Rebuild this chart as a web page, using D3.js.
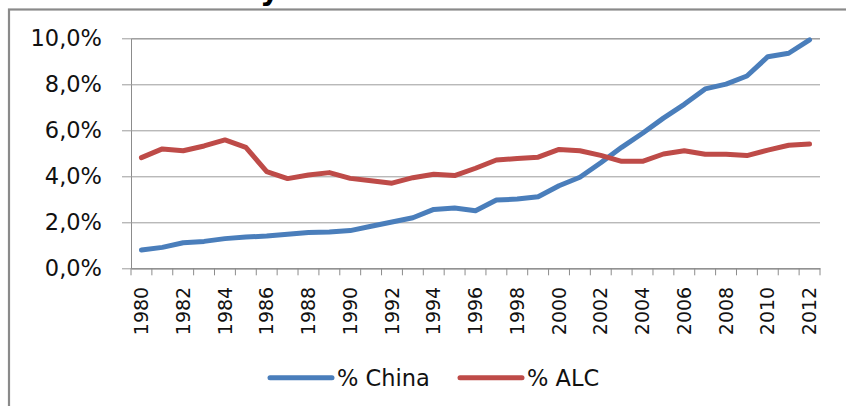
<!DOCTYPE html>
<html><head><meta charset="utf-8">
<script src="https://cdn.jsdelivr.net/npm/d3@7"></script>
<style>body{margin:0;background:#fff;}svg{display:block;}</style>
</head><body>
<svg id="c" width="846" height="406"></svg>
<script>
const years = d3.range(1980, 2013).map(String);
const china = [0.80,0.91,1.11,1.17,1.29,1.36,1.40,1.48,1.56,1.58,1.64,1.83,2.01,2.20,2.56,2.62,2.50,2.97,3.01,3.11,3.59,3.96,4.59,5.26,5.87,6.53,7.13,7.80,8.01,8.36,9.20,9.35,9.93];
const alc   = [4.81,5.19,5.11,5.32,5.58,5.26,4.20,3.90,4.06,4.16,3.91,3.81,3.70,3.94,4.09,4.03,4.35,4.71,4.77,4.83,5.17,5.11,4.91,4.65,4.65,4.97,5.11,4.96,4.96,4.90,5.14,5.35,5.40];
const yTicks = [0,2,4,6,8,10];
const seriesNames = ["% China", "% ALC"];
const colors = ["#4a7ebb", "#be4b48"];

const svg = d3.select("#c");
const font = "'DejaVu Sans', Verdana, sans-serif";

// outer frame (extends beyond canvas at right/bottom)
svg.append("rect").attr("x", 9).attr("y", 9.5).attr("width", 900).attr("height", 500)
  .attr("fill", "none").attr("stroke", "#8a8a8a").attr("stroke-width", 2.2);
// cut-off title fragment
svg.append("text").attr("x", 260).attr("y", 0).attr("font-family", font)
  .attr("font-weight", "bold").attr("font-size", 30).attr("fill", "#000").text("y");

const L = 131, R = 820, T = 38.3, B = 268.3;
const x = d3.scaleBand().domain(years).range([L, R]);
const y = d3.scaleLinear().domain([0, 10]).range([B, T]);

// gridlines + y axis
const yAxis = d3.axisLeft(y).tickValues(yTicks).tickSize(-(R - L)).tickPadding(29)
  .tickFormat(d => d3.format(".1f")(d).replace(".", ",") + "%");
const gy = svg.append("g").attr("transform", `translate(${L},0)`).call(yAxis);
gy.select(".domain").attr("stroke", "#8c8c8c");
gy.selectAll(".tick line").attr("stroke", "#9c9c9c").attr("x1", -9);
gy.selectAll(".tick text").attr("font-family", font).attr("font-size", 22.5).attr("fill", "#111");

// x axis
const xAxis = d3.axisBottom(x).tickSize(0).tickPadding(0);
const gx = svg.append("g").attr("transform", `translate(0,${B})`).call(xAxis);
gx.select(".domain").attr("stroke", "#8c8c8c");
gx.selectAll(".tick line").remove();
// boundary ticks
const bounds = years.map(d => x(d)).concat([R]);
gx.selectAll("line.bt").data(bounds).join("line").attr("class", "bt")
  .attr("x1", d => d).attr("x2", d => d).attr("y1", 0).attr("y2", 7)
  .attr("stroke", "#8c8c8c");
gx.selectAll(".tick text").filter((d, i) => i % 2 === 1).remove();
gx.selectAll(".tick text")
  .attr("font-family", font).attr("font-size", 19).attr("fill", "#111")
  .attr("text-anchor", "end").attr("dy", "0.35em")
  .attr("transform", `translate(0,18.5) rotate(-90)`)
  .attr("x", 0).attr("y", 0);

// lines
const line = d3.line().x((d, i) => x(years[i]) + x.bandwidth() / 2).y(d => y(d));
[china, alc].forEach((s, k) => {
  svg.append("path").datum(s).attr("d", line).attr("fill", "none")
    .attr("stroke", colors[k]).attr("stroke-width", 5)
    .attr("stroke-linejoin", "round").attr("stroke-linecap", "round");
});

// legend
const legX = [270, 460];
seriesNames.forEach((n, k) => {
  svg.append("line").attr("x1", legX[k]).attr("x2", legX[k] + 62).attr("y1", 377.7).attr("y2", 377.7)
    .attr("stroke", colors[k]).attr("stroke-width", 5).attr("stroke-linecap", "round");
  svg.append("text").attr("x", legX[k] + 67).attr("y", 377.7).attr("dy", "0.35em")
    .attr("font-family", font).attr("font-size", 22.5).attr("fill", "#111").text(n);
});
</script>
</body></html>
